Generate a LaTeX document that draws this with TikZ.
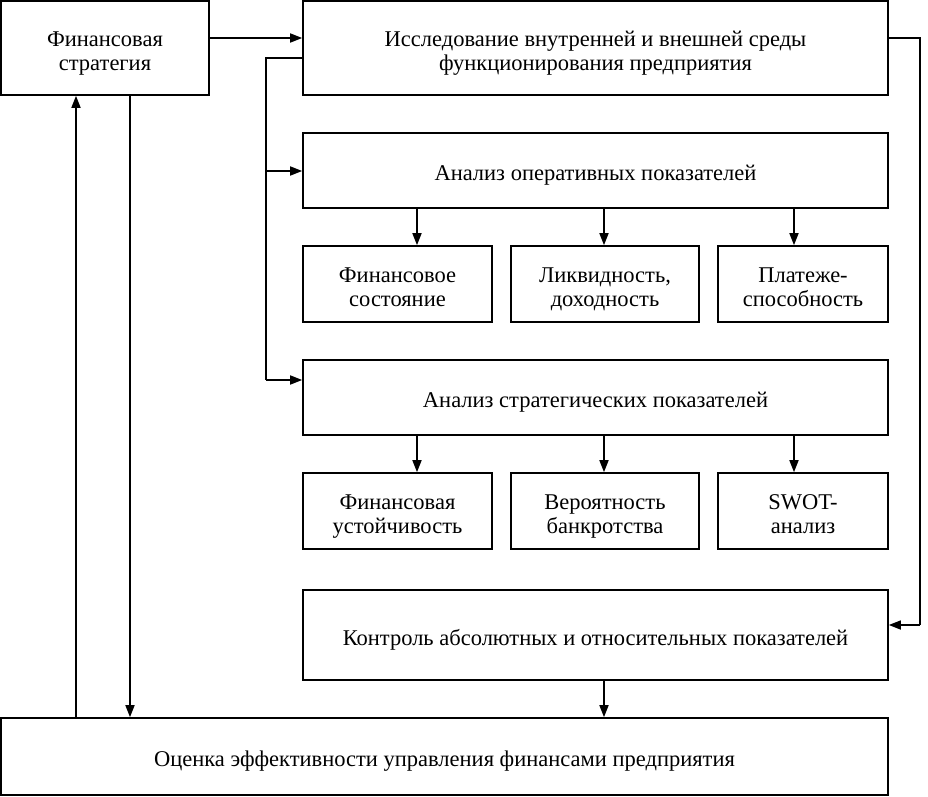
\documentclass[tikz,border=0pt]{standalone}
\usepackage{fontspec}
\setmainfont{Liberation Serif}
\usetikzlibrary{arrows.meta}
\begin{document}
\begin{tikzpicture}[x=1pt,y=-1pt,
  box/.style={draw,line width=1.6pt,align=center,inner sep=0pt,font=\fontsize{22.5}{24}\selectfont,
    text height=25pt,text depth=5pt},
  box2/.style={box,text height=49pt,text depth=5pt},
  arr/.style={line width=1.6pt,-{Triangle[length=12pt,width=9pt]}},
  ln/.style={line width=1.6pt}]
\useasboundingbox (0,0) rectangle (928,796);
\node[box2,minimum width=208,minimum height=94] (fs) at (105,48) {Финансовая\\стратегия};
\node[box2,minimum width=585,minimum height=94] (res) at (595.5,48) {Исследование внутренней и внешней среды\\функционирования предприятия};
\node[box,minimum width=585,minimum height=75] (op) at (595.5,170.5) {Анализ оперативных показателей};
\node[box2,minimum width=189,minimum height=76] (b11) at (397.5,284) {Финансовое\\состояние};
\node[box2,minimum width=188,minimum height=76] (b12) at (605,284) {Ликвидность,\\доходность};
\node[box2,minimum width=170,minimum height=76] (b13) at (803,284) {Платеже-\\способность};
\node[box,minimum width=585,minimum height=75] (st) at (595.5,397.5) {Анализ стратегических показателей};
\node[box2,minimum width=189,minimum height=76] (b21) at (397.5,511) {Финансовая\\устойчивость};
\node[box2,minimum width=188,minimum height=76] (b22) at (605,511) {Вероятность\\банкротства};
\node[box2,minimum width=170,minimum height=76] (b23) at (803,511) {SWOT-\\анализ};
\node[box,minimum width=585,minimum height=90] (ctrl) at (595.5,635) {Контроль абсолютных и относительных показателей};
\node[box,minimum width=887,minimum height=77] (ev) at (444.5,756.5) {Оценка эффективности управления финансами предприятия};
\coordinate (lt) at (266,58);
\coordinate (lm) at (266,171);
\coordinate (lb) at (266,380);
\coordinate (rt) at (920,38);
\coordinate (rb) at (920,625);
\draw[arr] (fs.east |- 0,38) -- (res.west |- 0,38);
\draw[ln] (res.west |- lt) -- (lt) -- (lb);
\draw[arr] (lm) -- (op.west |- lm);
\draw[arr] (lb) -- (st.west |- lb);
\draw[ln] (res.east |- rt) -- (rt) -- (rb);
\draw[arr] (rb) -- (ctrl.east |- rb);
\foreach \x/\t in {417/b11,604/b12,794/b13}{\draw[arr] (op.south -| \x,0) -- (\t.north -| \x,0);}
\foreach \x/\t in {417/b21,604/b22,794/b23}{\draw[arr] (st.south -| \x,0) -- (\t.north -| \x,0);}
\draw[arr] (ctrl.south -| 604,0) -- (ev.north -| 604,0);
\draw[arr] (fs.south -| 130,0) -- (ev.north -| 130,0);
\draw[arr] (ev.north -| 76,0) -- (fs.south -| 76,0);
\end{tikzpicture}
\end{document}
